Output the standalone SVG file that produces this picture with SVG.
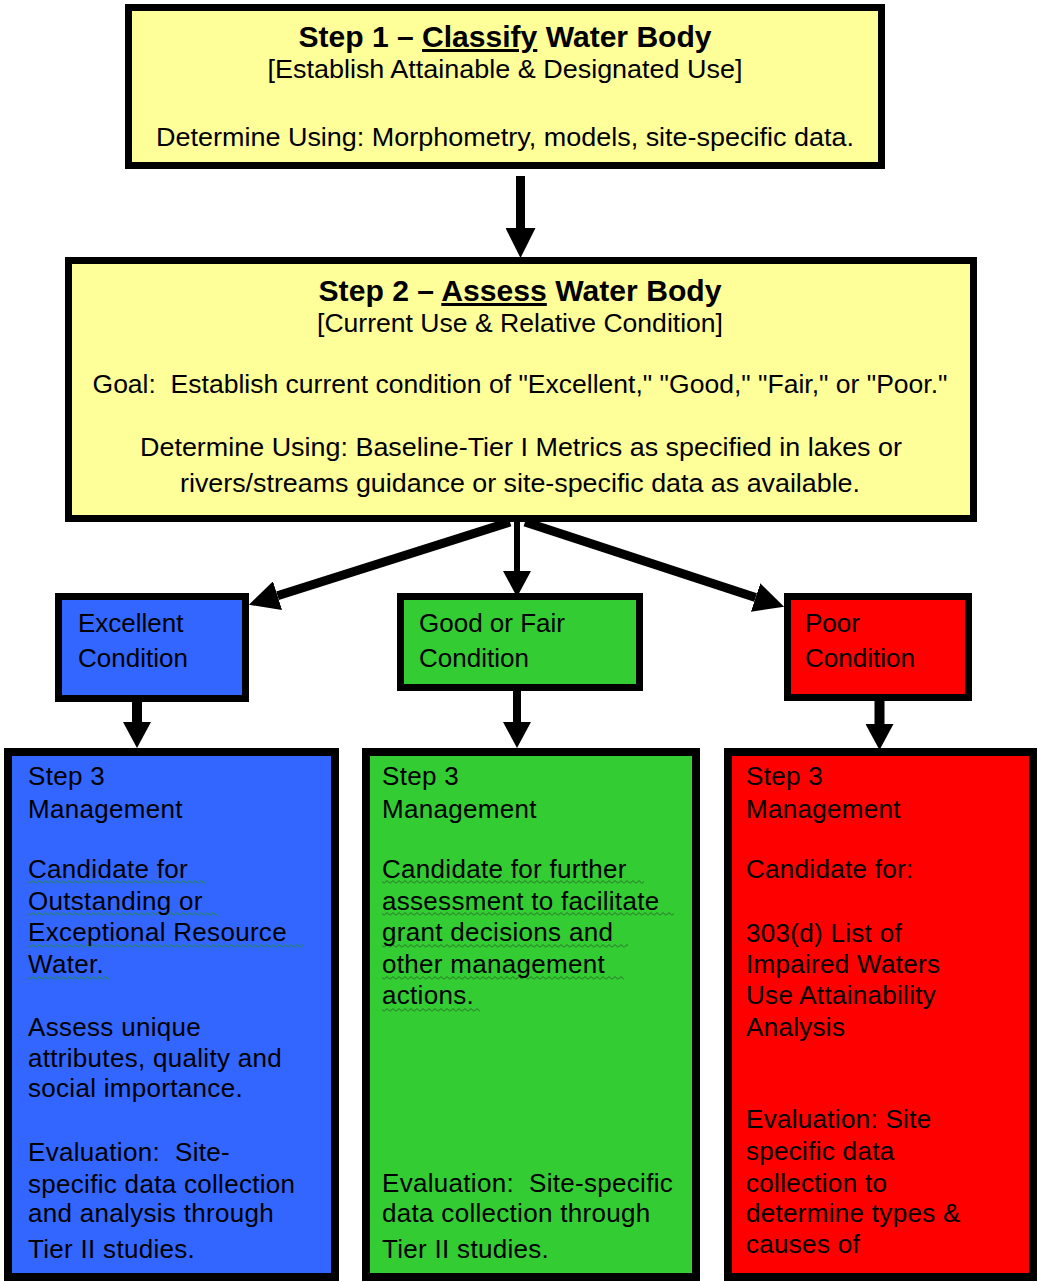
<svg xmlns="http://www.w3.org/2000/svg" width="1038" height="1282" viewBox="0 0 1038 1282">
<style>
  text { font-family: "Liberation Sans", Arial, sans-serif; fill: #000; white-space: pre; }
  .box { stroke: #000; stroke-width: 7; }
  .big { stroke: #000; stroke-width: 8; }
  .yellow { fill: #FFFF99; }
  .blue { fill: #3366FF; }
  .green { fill: #33CC33; }
  .red { fill: #FF0000; }
  .title { font-size: 30px; font-weight: bold; }
  .body { font-size: 26px; }
  .step { font-size: 26px; letter-spacing: 0.3px; }
  .cond { font-size: 26px; }
  .conn { stroke: #000; fill: none; }
  .ul { text-decoration: underline; }
</style>
<defs>
  <marker id="ahBig" markerUnits="userSpaceOnUse" markerWidth="30" markerHeight="30" viewBox="0 0 30 30" refX="0" refY="15" orient="auto">
    <path d="M0,0 L30,15 L0,30 Z" fill="#000"/>
  </marker>
  <marker id="ahSmall" markerUnits="userSpaceOnUse" markerWidth="26" markerHeight="28" viewBox="0 0 26 28" refX="0" refY="14" orient="auto">
    <path d="M0,0 L26,14 L0,28 Z" fill="#000"/>
  </marker>
  <pattern id="sqBlue" patternUnits="userSpaceOnUse" x="0" y="0" width="6" height="4">
    <path d="M0,3.5 L3,0.5 L6,3.5" fill="none" stroke="#1f8f2a" stroke-width="1"/>
  </pattern>
  <pattern id="sqGreen" patternUnits="userSpaceOnUse" x="0" y="0" width="6" height="4">
    <path d="M0,3.5 L3,0.5 L6,3.5" fill="none" stroke="#2a6a2a" stroke-width="1"/>
  </pattern>
</defs>

<g id="connectors">
  <line class="conn" x1="520.5" y1="176" x2="520.5" y2="228" stroke-width="9" marker-end="url(#ahBig)"/>
  <line class="conn" x1="510" y1="522" x2="277.5" y2="595.7" stroke-width="9" marker-end="url(#ahBig)"/>
  <line class="conn" x1="517" y1="522" x2="517" y2="571" stroke-width="6" marker-end="url(#ahSmall)"/>
  <line class="conn" x1="525" y1="522" x2="755.6" y2="597.5" stroke-width="9" marker-end="url(#ahBig)"/>
  <line class="conn" x1="137" y1="701" x2="137" y2="722" stroke-width="10" marker-end="url(#ahSmall)"/>
  <line class="conn" x1="517" y1="690" x2="517" y2="722" stroke-width="8" marker-end="url(#ahSmall)"/>
  <line class="conn" x1="879.5" y1="700" x2="879.5" y2="724" stroke-width="10" marker-end="url(#ahSmall)"/>
</g>

<g id="step1">
  <rect class="box yellow" x="128.5" y="7.5" width="753" height="158"/>
  <text class="title" x="505" y="47" text-anchor="middle" textLength="413" lengthAdjust="spacingAndGlyphs">Step 1 – <tspan class="ul">Classify</tspan> Water Body</text>
  <text class="body" x="505" y="78" text-anchor="middle" textLength="475" lengthAdjust="spacingAndGlyphs">[Establish Attainable &amp; Designated Use]</text>
  <text class="body" x="505" y="146" text-anchor="middle" textLength="698" lengthAdjust="spacingAndGlyphs">Determine Using: Morphometry, models, site-specific data.</text>
</g>

<g id="step2">
  <rect class="box yellow" x="68.5" y="260.5" width="905" height="258"/>
  <text class="title" x="520" y="301" text-anchor="middle" textLength="403" lengthAdjust="spacingAndGlyphs">Step 2 – <tspan class="ul">Assess</tspan> Water Body</text>
  <text class="body" x="520" y="332" text-anchor="middle" textLength="406" lengthAdjust="spacingAndGlyphs">[Current Use &amp; Relative Condition]</text>
  <text class="body" x="520" y="393" text-anchor="middle" textLength="855" lengthAdjust="spacingAndGlyphs">Goal:  Establish current condition of "Excellent," "Good," "Fair," or "Poor."</text>
  <text class="body" x="521" y="456" text-anchor="middle" textLength="762" lengthAdjust="spacingAndGlyphs">Determine Using: Baseline-Tier I Metrics as specified in lakes or</text>
  <text class="body" x="520" y="492" text-anchor="middle" textLength="680" lengthAdjust="spacingAndGlyphs">rivers/streams guidance or site-specific data as available.</text>
</g>

<g id="excellent">
  <rect class="box blue" x="58.5" y="596.5" width="187" height="102"/>
  <text class="cond" x="78" y="632">Excellent</text>
  <text class="cond" x="78" y="667">Condition</text>
</g>

<g id="goodfair">
  <rect class="box green" x="400.5" y="596.5" width="239" height="91"/>
  <text class="cond" x="419" y="632">Good or Fair</text>
  <text class="cond" x="419" y="667">Condition</text>
</g>

<g id="poor">
  <rect class="box red" x="787.5" y="596.5" width="181" height="101"/>
  <text class="cond" x="805" y="632">Poor</text>
  <text class="cond" x="805" y="667">Condition</text>
</g>

<g id="step3-excellent">
  <rect class="big blue" x="8" y="752" width="327" height="525"/>
  <rect x="28" y="880" width="178" height="4" fill="url(#sqBlue)"/>
  <rect x="28" y="912" width="190" height="4" fill="url(#sqBlue)"/>
  <rect x="28" y="944" width="276" height="4" fill="url(#sqBlue)"/>
  <rect x="28" y="976" width="82" height="4" fill="url(#sqBlue)"/>
  <text class="step" x="28" y="785">Step 3</text>
  <text class="step" x="28" y="818">Management</text>
  <text class="step" x="28" y="878">Candidate for</text>
  <text class="step" x="28" y="910">Outstanding or</text>
  <text class="step" x="28" y="941">Exceptional Resource</text>
  <text class="step" x="28" y="973">Water.</text>
  <text class="step" x="28" y="1036">Assess unique</text>
  <text class="step" x="28" y="1067">attributes, quality and</text>
  <text class="step" x="28" y="1097">social importance.</text>
  <text class="step" x="28" y="1161">Evaluation:  Site-</text>
  <text class="step" x="28" y="1193">specific data collection</text>
  <text class="step" x="28" y="1222">and analysis through</text>
  <text class="step" x="28" y="1258">Tier II studies.</text>
</g>

<g id="step3-goodfair">
  <rect class="big green" x="366" y="752" width="330" height="525"/>
  <rect x="382" y="880" width="262" height="4" fill="url(#sqGreen)"/>
  <rect x="382" y="912" width="292" height="4" fill="url(#sqGreen)"/>
  <rect x="382" y="944" width="246" height="4" fill="url(#sqGreen)"/>
  <rect x="382" y="976" width="242" height="4" fill="url(#sqGreen)"/>
  <rect x="382" y="1008" width="98" height="4" fill="url(#sqGreen)"/>
  <text class="step" x="382" y="785">Step 3</text>
  <text class="step" x="382" y="818">Management</text>
  <text class="step" x="382" y="878">Candidate for further</text>
  <text class="step" x="382" y="910">assessment to facilitate</text>
  <text class="step" x="382" y="941">grant decisions and</text>
  <text class="step" x="382" y="973">other management</text>
  <text class="step" x="382" y="1004">actions.</text>
  <text class="step" x="382" y="1192">Evaluation:  Site-specific</text>
  <text class="step" x="382" y="1222">data collection through</text>
  <text class="step" x="382" y="1258">Tier II studies.</text>
</g>

<g id="step3-poor">
  <rect class="big red" x="728" y="752" width="305" height="525"/>
  <text class="step" x="746" y="785">Step 3</text>
  <text class="step" x="746" y="818">Management</text>
  <text class="step" x="746" y="878">Candidate for:</text>
  <text class="step" x="746" y="942">303(d) List of</text>
  <text class="step" x="746" y="973">Impaired Waters</text>
  <text class="step" x="746" y="1004">Use Attainability</text>
  <text class="step" x="746" y="1036">Analysis</text>
  <text class="step" x="746" y="1128">Evaluation: Site</text>
  <text class="step" x="746" y="1160">specific data</text>
  <text class="step" x="746" y="1192">collection to</text>
  <text class="step" x="746" y="1222">determine types &amp;</text>
  <text class="step" x="746" y="1253">causes of</text>
</g>
</svg>
